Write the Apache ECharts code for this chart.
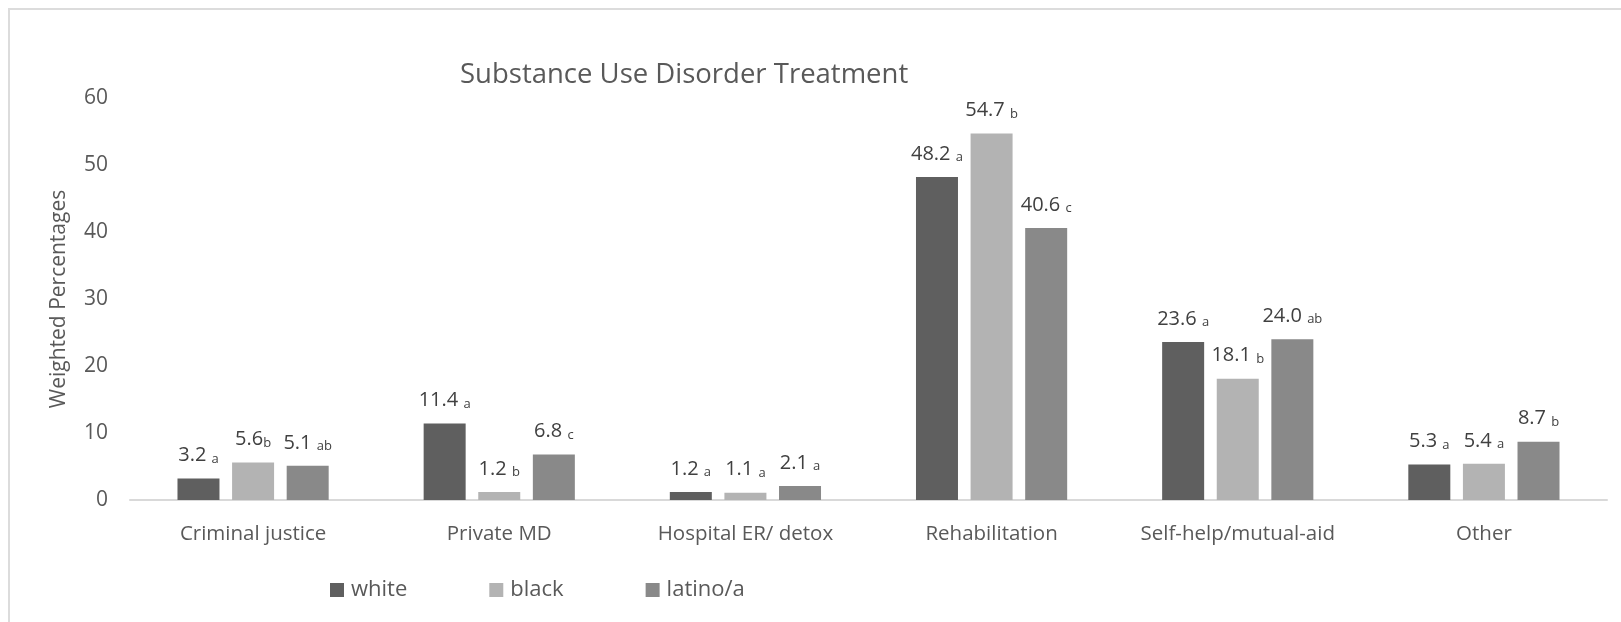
<!DOCTYPE html>
<html>
<head>
<meta charset="utf-8">
<title>Substance Use Disorder Treatment</title>
<script src="https://cdn.jsdelivr.net/npm/echarts@6/dist/echarts.min.js"></script>
<style>
  html, body { margin: 0; padding: 0; background: #fff; }
  #chart { width: 1621px; height: 622px; }
</style>
</head>
<body>
<div id="chart"></div>
<script>
// Treatment settings on the category axis
const categories = ['Criminal justice', 'Private MD', 'Hospital ER/ detox', 'Rehabilitation', 'Self-help/mutual-aid', 'Other'];

// Weighted percentages per group
const whiteValues  = [3.2, 11.4, 1.2, 48.2, 23.6, 5.3];
const blackValues  = [5.6, 1.2, 1.1, 54.7, 18.1, 5.4];
const latinoValues = [5.1, 6.8, 2.1, 40.6, 24.0, 8.7];

// Significance letters shown after each value (leading space kept as printed)
const whiteSig  = [' a', ' a', ' a', ' a', ' a', ' a'];
const blackSig  = ['b', ' b', ' a', ' b', ' b', ' a'];
const latinoSig = [' ab', ' c', ' a', ' c', ' ab', ' b'];

// Y-axis ticks
const yTicks = [0, 10, 20, 30, 40, 50, 60];

const seriesNames = ['white', 'black', 'latino/a'];
const seriesColors = ['#5f5f5f', '#b3b3b3', '#898989'];

const FONT = '"Open Sans", "DejaVu Sans", sans-serif';
const TEXT = '#595959';

function makeLabel(sig) {
  return {
    show: true,
    position: 'top',
    distance: 13,
    formatter: p => {
      const s = sig[p.dataIndex];
      const lead = s.startsWith(' ') ? ' ' : '';
      return '{v|' + p.value.toFixed(1) + lead + '}{s|' + s.trim() + '}';
    },
    rich: {
      v: { fontFamily: FONT, fontSize: 20, color: '#404040' },
      s: { fontFamily: FONT, fontSize: 13, color: '#404040', verticalAlign: 'bottom', lineHeight: 10 }
    }
  };
}

const valueSets = [whiteValues, blackValues, latinoValues];
const sigSets = [whiteSig, blackSig, latinoSig];

const chart = echarts.init(document.getElementById('chart'), null, { renderer: 'canvas' });

chart.setOption({
  backgroundColor: '#ffffff',
  animation: false,
  graphic: [{
    type: 'rect',
    silent: true,
    shape: { x: 9, y: 9, width: 1700, height: 700 },
    style: { fill: 'none', stroke: '#dcdcdc', lineWidth: 2 }
  }],
  title: {
    text: 'Substance Use Disorder Treatment',
    left: 455,
    top: 56,
    textStyle: { fontFamily: FONT, fontSize: 27.5, fontWeight: 'normal', color: TEXT }
  },
  legend: {
    data: seriesNames,
    left: 325,
    top: 574,
    icon: 'rect',
    itemWidth: 14,
    itemHeight: 14,
    itemGap: 82,
    textStyle: { fontFamily: FONT, fontSize: 22, color: TEXT, padding: [0, 0, 0, 2] }
  },
  grid: { left: 130, right: 14, top: 98, bottom: 122 },
  xAxis: {
    type: 'category',
    data: categories,
    axisLine: { lineStyle: { color: '#d9d9d9', width: 2 } },
    axisTick: { show: false },
    axisLabel: { fontFamily: FONT, fontSize: 20.5, color: TEXT, margin: 24, interval: 0 }
  },
  yAxis: {
    type: 'value',
    min: yTicks[0],
    max: yTicks[yTicks.length - 1],
    interval: yTicks[1] - yTicks[0],
    name: 'Weighted Percentages',
    nameLocation: 'middle',
    nameGap: 60,
    nameTextStyle: { fontFamily: FONT, fontSize: 21, color: TEXT },
    axisLine: { show: false },
    axisTick: { show: false },
    splitLine: { show: false },
    axisLabel: { fontFamily: FONT, fontSize: 21, color: TEXT, margin: 22 }
  },
  series: seriesNames.map((name, i) => ({
    name,
    type: 'bar',
    data: valueSets[i],
    barWidth: 42,
    barGap: '30%',
    itemStyle: { color: seriesColors[i] },
    label: makeLabel(sigSets[i])
  }))
});
</script>
</body>
</html>
